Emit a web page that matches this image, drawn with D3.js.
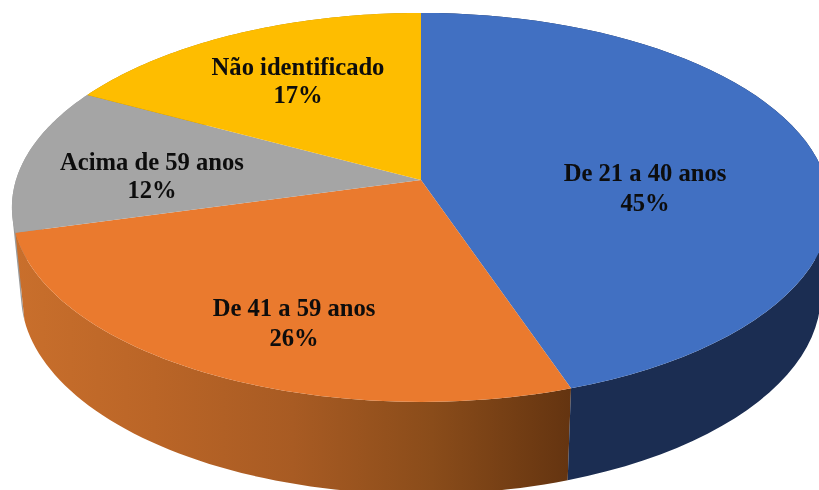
<!DOCTYPE html>
<html><head><meta charset="utf-8">
<script src="https://cdn.jsdelivr.net/npm/d3@7/dist/d3.min.js"></script>
<style>html,body{margin:0;padding:0;background:#fff;overflow:hidden}svg{display:block}</style>
</head><body><svg id="c" width="819" height="490"></svg>
<script>
const categories = ["De 21 a 40 anos","De 41 a 59 anos","Acima de 59 anos","Não identificado"];
const shares = [44.8,25.9,12.2,17.1];
const topColors = ["#4170c2","#ea7a2e","#a5a5a5","#febd00"];
const sideColors = ["#1b2d52","url(#og)","#9a9a9a","#b38600"];
const labelPos = [[645,181,211],[294,316,346],[152,170,198],[298,75,103]];

const svg = d3.select("#c");
const defs = svg.append("defs");
const og = defs.append("linearGradient").attr("id","og").attr("gradientUnits","userSpaceOnUse")
  .attr("x1",15).attr("x2",571).attr("y1",0).attr("y2",0);
[[0,"#c96f2c"],[.25,"#ba6527"],[.5,"#a85b23"],[.75,"#8a4c1a"],[1,"#643410"]].forEach(s=>og.append("stop").attr("offset",s[0]).attr("stop-color",s[1]));
defs.append("filter").attr("id","soft").append("feGaussianBlur").attr("stdDeviation",0.4);

const K = 0.141;
const project = (d,a) => {
  const u = Math.sin(a), v = -Math.cos(a), w = 1 - K*v;
  return [d.cx + d.A*u/w, d.cy + d.B*v/w];
};
const topDisk = {cx:421, cy:180, A:405, B:190.6};
const botDisk = {cx:421, cy:266, A:396, B:196};

const arcs = d3.pie().sort(null)(shares);
const samples = a => d3.range(0,61).map(i => a.startAngle + (a.endAngle-a.startAngle)*i/60);
const line = d3.line();

// sides, back to front
[3,2,1,0].forEach(i => {
  const pts = samples(arcs[i]);
  const quads = d3.pairs(pts).map(([s,t]) =>
    line(d3.polygonHull([project(topDisk,s),project(topDisk,t),project(botDisk,t),project(botDisk,s)]))+"Z");
  svg.append("path").attr("d", quads.join("")).attr("fill", sideColors[i]);
});
// top faces
arcs.forEach((a,i) => {
  const p = [[topDisk.cx,topDisk.cy]].concat(samples(a).map(t=>project(topDisk,t)));
  svg.append("path").attr("d", line(p)+"Z").attr("fill", topColors[i]);
});
// labels
const g = svg.append("g").attr("filter","url(#soft)")
  .attr("font-family","'Liberation Serif',serif").attr("font-weight","bold").attr("font-size",24.6)
  .attr("text-anchor","middle").attr("fill","#0a0a0a");
categories.forEach((c,i) => {
  const [x,y1,y2] = labelPos[i];
  g.append("text").attr("x",x).attr("y",y1).text(c);
  g.append("text").attr("x",x).attr("y",y2).text(Math.round(shares[i])+"%");
});
</script></body></html>
